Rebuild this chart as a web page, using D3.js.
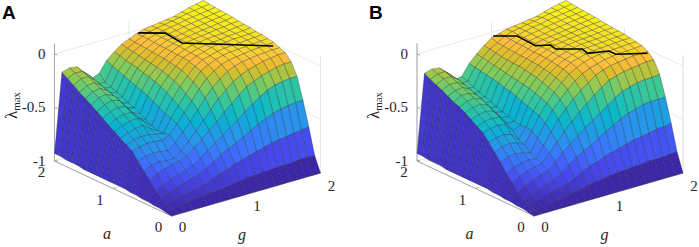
<!DOCTYPE html>
<html lang="en">
<head>
<meta charset="utf-8">
<title>Largest eigenvalue surfaces</title>
<script src="https://d3js.org/d3.v7.min.js"></script>
<style>
body { margin: 0; background: #fff; }
text { font-family: "Liberation Serif", serif; fill: #262626; }
.letter { font-family: "Liberation Sans", sans-serif; font-weight: bold; font-size: 19px; fill: #000; }
</style>
</head>
<body>
<script>
// grid of the surface, g along the columns and a along the rows
var gridG = [0,0.1,0.2,0.3,0.4,0.5,0.6,0.7,0.8,0.9,1,1.1,1.2,1.3,1.4,1.5,1.6,1.7,1.8,1.9,2];
var gridA = [0,0.1,0.2,0.3,0.4,0.5,0.6,0.7,0.8,0.9,1,1.1,1.2,1.3,1.4,1.5,1.6,1.7,1.8,1.9,2];

var surfaceA = [
[-1,-1,-1,-1,-1,-1,-1,-1,-1,-1,-1,-1,-1,-1,-1,-1,-1,-1,-1,-1,-1],
[-.99,-.98,-.97,-.96,-.95,-.94,-.93,-.93,-.92,-.91,-.9,-.89,-.89,-.88,-.88,-.87,-.87,-.87,-.86,-.86,-.86],
[-.98,-.96,-.94,-.92,-.91,-.9,-.88,-.85,-.82,-.8,-.77,-.75,-.73,-.71,-.69,-.67,-.66,-.65,-.64,-.63,-.62],
[-.98,-.93,-.9,-.87,-.85,-.83,-.81,-.77,-.73,-.69,-.65,-.62,-.58,-.54,-.5,-.47,-.44,-.42,-.41,-.4,-.395],
[-.97,-.89,-.85,-.82,-.8,-.78,-.75,-.7,-.65,-.6,-.55,-.5,-.45,-.39,-.34,-.29,-.25,-.22,-.21,-.2,-.2],
[-.97,-.82,-.77,-.75,-.73,-.72,-.69,-.63,-.57,-.51,-.45,-.38,-.32,-.26,-.2,-.17,-.14,-.12,-.1,-.09,-.09],
[-.96,-.755,-.72,-.71,-.72,-.72,-.67,-.6,-.52,-.44,-.36,-.28,-.22,-.16,-.12,-.09,-.07,-.05,-.04,-.03,-.03],
[-.96,-.69,-.66,-.65,-.66,-.67,-.62,-.54,-.46,-.37,-.28,-.2,-.14,-.09,-.06,-.04,-.03,-.02,-.015,-.01,-.01],
[-.95,-.62,-.6,-.59,-.59,-.6,-.57,-.49,-.4,-.31,-.22,-.14,-.09,-.05,-.03,-.02,-.01,0,.005,.01,.015],
[-.95,-.585,-.56,-.55,-.55,-.57,-.58,-.46,-.36,-.27,-.18,-.1,-.06,-.03,-.01,0,.005,.01,.015,.02,.025],
[-.95,-.55,-.52,-.5,-.49,-.54,-.58,-.44,-.32,-.23,-.15,-.08,-.04,-.02,0,.01,.015,.02,.025,.03,.035],
[-.95,-.513,-.48,-.46,-.45,-.5,-.56,-.41,-.29,-.2,-.12,-.06,-.03,-.01,.01,.02,.02,.03,.03,.035,.04],
[-.95,-.48,-.44,-.42,-.42,-.49,-.53,-.38,-.26,-.18,-.11,-.05,-.025,-.005,.01,.015,.02,.03,.035,.04,.05],
[-.95,-.44,-.4,-.38,-.39,-.47,-.5,-.35,-.24,-.16,-.1,-.05,-.02,0,.01,.02,.025,.03,.04,.05,.055],
[-.95,-.404,-.36,-.34,-.36,-.45,-.47,-.33,-.22,-.15,-.09,-.045,-.015,0,.01,.02,.03,.04,.045,.055,.06],
[-.95,-.368,-.32,-.31,-.34,-.43,-.45,-.31,-.21,-.14,-.085,-.04,-.015,0,.01,.02,.03,.04,.05,.06,.07],
[-.94,-.333,-.29,-.28,-.32,-.41,-.42,-.29,-.19,-.13,-.08,-.04,-.01,0,.01,.025,.035,.045,.055,.065,.075],
[-.94,-.3,-.26,-.25,-.3,-.39,-.4,-.27,-.18,-.12,-.075,-.035,-.01,.005,.015,.03,.04,.05,.06,.07,.08],
[-.94,-.26,-.22,-.22,-.28,-.37,-.38,-.25,-.17,-.11,-.07,-.03,-.005,.005,.02,.03,.045,.055,.065,.075,.085],
[-.93,-.225,-.19,-.2,-.26,-.35,-.36,-.23,-.15,-.1,-.065,-.03,-.005,.005,.02,.03,.045,.06,.07,.08,.09],
[-.93,-.19,-.17,-.18,-.25,-.33,-.3,-.2,-.14,-.09,-.06,-.03,-.01,0,.01,.02,.03,.05,.07,.085,.1]
];

var surfaceB = [
[-1,-1,-1,-1,-1,-1,-1,-1,-1,-1,-1,-1,-1,-1,-1,-1,-1,-1,-1,-1,-1],
[-.99,-.99,-.98,-.97,-.96,-.95,-.93,-.92,-.9,-.89,-.88,-.87,-.86,-.86,-.85,-.85,-.84,-.84,-.84,-.83,-.83],
[-.98,-.97,-.95,-.93,-.91,-.89,-.87,-.84,-.8,-.77,-.75,-.72,-.7,-.68,-.66,-.64,-.63,-.62,-.6,-.6,-.59],
[-.98,-.95,-.92,-.89,-.86,-.84,-.8,-.74,-.69,-.65,-.62,-.57,-.53,-.49,-.45,-.42,-.4,-.38,-.37,-.37,-.37],
[-.97,-.9,-.86,-.83,-.8,-.78,-.72,-.65,-.59,-.53,-.48,-.43,-.38,-.33,-.28,-.24,-.22,-.2,-.19,-.19,-.18],
[-.97,-.84,-.8,-.77,-.75,-.74,-.66,-.58,-.5,-.43,-.36,-.3,-.24,-.19,-.14,-.12,-.1,-.09,-.08,-.07,-.07],
[-.96,-.78,-.74,-.72,-.71,-.72,-.62,-.51,-.41,-.33,-.26,-.2,-.15,-.1,-.07,-.05,-.04,-.03,-.02,-.02,-.02],
[-.96,-.7,-.67,-.66,-.67,-.69,-.57,-.45,-.35,-.27,-.2,-.14,-.09,-.06,-.04,-.02,-.01,0,0,.005,.01],
[-.95,-.63,-.6,-.59,-.6,-.64,-.53,-.41,-.31,-.23,-.16,-.1,-.06,-.03,-.01,0,.005,.01,.015,.02,.02],
[-.95,-.56,-.54,-.53,-.55,-.62,-.52,-.39,-.29,-.21,-.14,-.08,-.04,-.02,0,.01,.015,.02,.025,.03,.03],
[-.95,-.5,-.48,-.47,-.48,-.56,-.53,-.37,-.27,-.19,-.12,-.07,-.035,-.01,.005,.015,.02,.025,.03,.035,.04],
[-.95,-.465,-.44,-.43,-.44,-.52,-.52,-.35,-.25,-.17,-.11,-.06,-.03,-.01,.01,.02,.025,.03,.035,.04,.045],
[-.95,-.427,-.4,-.39,-.41,-.49,-.5,-.33,-.24,-.16,-.1,-.055,-.025,-.005,.01,.02,.025,.03,.04,.045,.05],
[-.95,-.39,-.36,-.35,-.38,-.47,-.48,-.31,-.23,-.15,-.095,-.05,-.02,0,.01,.02,.03,.035,.04,.05,.055],
[-.95,-.36,-.33,-.32,-.35,-.45,-.46,-.3,-.22,-.14,-.09,-.05,-.02,0,.01,.02,.03,.04,.05,.055,.06],
[-.95,-.34,-.3,-.3,-.33,-.43,-.44,-.28,-.21,-.14,-.09,-.045,-.015,0,.01,.02,.03,.04,.05,.06,.07],
[-.94,-.31,-.28,-.27,-.31,-.41,-.42,-.27,-.2,-.135,-.085,-.04,-.015,0,.01,.025,.035,.045,.055,.065,.075],
[-.94,-.28,-.25,-.25,-.29,-.39,-.4,-.26,-.19,-.13,-.08,-.04,-.01,.005,.015,.03,.04,.05,.06,.07,.08],
[-.94,-.256,-.22,-.22,-.27,-.37,-.38,-.25,-.18,-.12,-.075,-.035,-.01,.005,.02,.03,.045,.055,.065,.075,.085],
[-.93,-.23,-.2,-.2,-.26,-.35,-.35,-.24,-.17,-.11,-.07,-.03,-.005,.005,.02,.03,.045,.06,.07,.08,.09],
[-.93,-.2,-.18,-.19,-.25,-.34,-.33,-.23,-.16,-.1,-.05,-.03,-.01,0,.01,.02,.03,.05,.07,.085,.1]
];

// zero level line drawn on top of each surface
var zeroLineAg = [1.07,1.29,1.257,1.96];
var zeroLineAa = [1.93,1.75,1.42,0.757];
var zeroLineBg = [0.952,1.152,1.133,1.27,1.241,1.464,1.432,1.648,1.648,1.93];
var zeroLineBa = [1.91,1.753,1.416,1.334,1.211,1.037,0.906,0.82,0.70,0.516];

var gTicks = [0,1,2];
var aTicks = [0,1,2];
var zTicks = [-1,-0.5,0];
var zTickLabels = ["-1","-0.5","0"];

// parula stops
var colorStops = [0,0.111,0.222,0.333,0.444,0.556,0.667,0.778,0.841,0.92,1];
var colorValues = ["#3e26a8","#4747eb","#3e6fff","#2796eb","#08b5d0","#31c69f","#81cc59","#dcbd29","#febd3c","#f7dc2a","#f9fb15"];

var w = 699, h = 247;

var svg = d3.select("body").append("svg")
	.attr("width", w)
	.attr("height", h);

// orthographic view, each data axis moves the point along its own screen direction
var gToX = d3.scaleLinear().domain([0,2]).range([0,149]);
var gToY = d3.scaleLinear().domain([0,2]).range([0,-43]);
var aToX = d3.scaleLinear().domain([0,2]).range([0,-117]);
var aToY = d3.scaleLinear().domain([0,2]).range([0,-55]);
var zToY = d3.scaleLinear().domain([-1,0]).range([0,-107]);

var color = d3.scaleLinear()
	.domain(colorStops.map(function(t) { return -1 + 1.1 * t; }))
	.range(colorValues)
	.interpolate(d3.interpolateRgb)
	.clamp(true);

function drawPanel(ox, oy, surface, lineG, lineA, letter, letterX) {
	var g = svg.append("g").attr("transform", "translate(" + ox + "," + oy + ")");

	function px(gv, av) { return gToX(gv) + aToX(av); }
	function py(gv, av, zv) { return gToY(gv) + aToY(av) + zToY(zv); }
	function pt(gv, av, zv) { return [px(gv, av), py(gv, av, zv)]; }

	var wire = d3.line();
	var zTop = 0.1;

	// back walls and floor
	var grid = g.append("g").attr("fill", "none").attr("stroke", "#e4e4e4").attr("stroke-width", 0.8);
	zTicks.forEach(function(z) {
		grid.append("path").attr("d", wire([pt(0,2,z), pt(2,2,z), pt(2,0,z)]));
	});
	gTicks.forEach(function(t) {
		grid.append("path").attr("d", wire([pt(t,0,-1), pt(t,2,-1), pt(t,2,zTop)]));
	});
	aTicks.forEach(function(t) {
		grid.append("path").attr("d", wire([pt(0,t,-1), pt(2,t,-1), pt(2,t,zTop)]));
	});
	grid.append("path").attr("d", wire([pt(2,0,-1), pt(2,0,zTop)]));

	// axis lines
	var axes = g.append("g").attr("fill", "none").attr("stroke", "#a6a6a6").attr("stroke-width", 1);
	axes.append("path").attr("d", wire([pt(0,2,zTop), pt(0,2,-1), pt(0,0,-1), pt(2,0,-1)]));
	zTicks.forEach(function(z) {
		var p = pt(0,2,z);
		axes.append("path").attr("d", wire([p, [p[0]+3, p[1]+1]]));
	});
	aTicks.forEach(function(t) {
		var p = pt(0,t,-1);
		axes.append("path").attr("d", wire([p, [p[0]+3, p[1]-1]]));
	});
	gTicks.forEach(function(t) {
		var p = pt(t,0,-1);
		axes.append("path").attr("d", wire([p, [p[0]-2, p[1]-1]]));
	});

	// cells sorted along the line of sight, far ones first
	var cells = [];
	for (var i = 0; i < gridA.length - 1; i++) {
		for (var j = 0; j < gridG.length - 1; j++) {
			var zMid = (surface[i][j] + surface[i][j+1] + surface[i+1][j] + surface[i+1][j+1]) / 4;
			cells.push({i: i, j: j, depth: gridA[i] + 0.79 * gridG[j] - 0.416 * zMid});
		}
	}
	cells.sort(function(p, q) { return d3.descending(p.depth, q.depth); });

	g.append("g").selectAll("path")
		.data(cells)
		.enter()
		.append("path")
		.attr("d", function(d) {
			var i = d.i, j = d.j;
			return wire([
				pt(gridG[j], gridA[i], surface[i][j]),
				pt(gridG[j+1], gridA[i], surface[i][j+1]),
				pt(gridG[j+1], gridA[i+1], surface[i+1][j+1]),
				pt(gridG[j], gridA[i+1], surface[i+1][j])
			]) + "Z";
		})
		.attr("fill", function(d) { return color(surface[d.i][d.j]); })
		.attr("stroke", "#14202e")
		.attr("stroke-opacity", 0.55)
		.attr("stroke-width", 0.55)
		.attr("stroke-linejoin", "round");

	// zero line
	g.append("path")
		.attr("d", wire(lineG.map(function(v, k) { return pt(v, lineA[k], 0); })))
		.attr("fill", "none")
		.attr("stroke", "#000")
		.attr("stroke-width", 1.6);

	// tick labels
	var fs = 15;
	zTicks.forEach(function(z, k) {
		var p = pt(0,2,z);
		g.append("text").attr("x", p[0]-9).attr("y", p[1]).attr("dy", "0.32em")
			.attr("text-anchor", "end").attr("font-size", fs).text(zTickLabels[k]);
	});
	aTicks.forEach(function(t) {
		var p = pt(0,t,-1);
		g.append("text").attr("x", p[0]-13).attr("y", p[1]+11.5).attr("dy", "0.32em")
			.attr("text-anchor", "middle").attr("font-size", fs).text(t);
	});
	gTicks.forEach(function(t) {
		var p = pt(t,0,-1);
		g.append("text").attr("x", p[0]+11).attr("y", p[1]+11+t).attr("dy", "0.32em")
			.attr("text-anchor", "middle").attr("font-size", fs).text(t);
	});

	// axis titles
	var aLabel = pt(0,1,-1);
	g.append("text").attr("x", aLabel[0]-6).attr("y", aLabel[1]+50)
		.attr("text-anchor", "middle").attr("font-size", 16).attr("font-style", "italic").text("a");
	var gLabel = pt(1,0,-1);
	g.append("text").attr("x", gLabel[0]-4).attr("y", gLabel[1]+45)
		.attr("text-anchor", "middle").attr("font-size", 16).attr("font-style", "italic").text("g");
	var zLabel = g.append("text")
		.attr("transform", "translate(" + (pt(0,2,-0.5)[0]-38) + "," + (pt(0,2,-0.5)[1]-2) + ") rotate(-90)")
		.attr("text-anchor", "middle").attr("font-size", 17);
	zLabel.append("tspan").text("\u03bb");
	zLabel.append("tspan").attr("font-size", 11).attr("dy", 3).text("max");

	svg.append("text").attr("class", "letter").attr("x", letterX).attr("y", 19).text(letter);
}

drawPanel(171.5, 216, surfaceA, zeroLineAg, zeroLineAa, "A", 2);
drawPanel(534, 216, surfaceB, zeroLineBg, zeroLineBa, "B", 369);
</script>
</body>
</html>
